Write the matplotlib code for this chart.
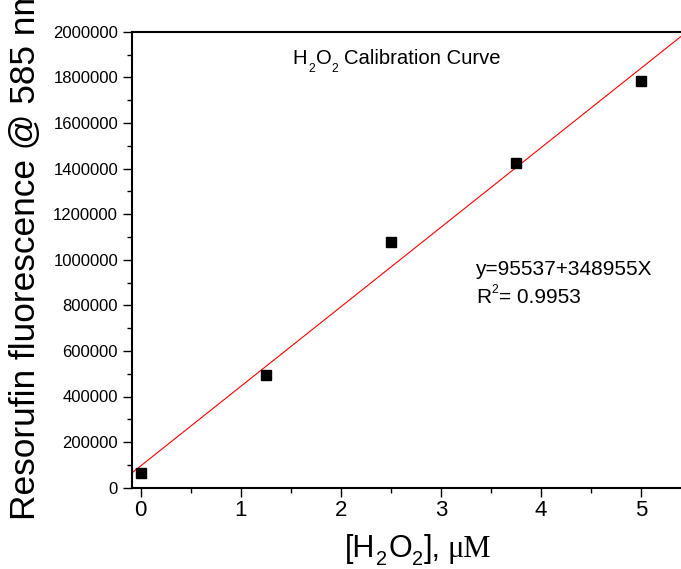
import matplotlib
matplotlib.use('Agg')
import matplotlib.pyplot as plt
import numpy as np
from matplotlib.ticker import MultipleLocator, FuncFormatter

# Data
conc = [0, 1.25, 2.5, 3.75, 5]
fluor = [66000, 494000, 1077000, 1424000, 1783000]
intercept = 95537
slope = 348955
r2 = 0.9953
ylabel = 'Resorufin fluorescence @ 585 nm'

plt.rcParams['font.family'] = ['Liberation Sans', 'DejaVu Sans']

W, H = 681, 569
fig = plt.figure(figsize=(W / 100, H / 100), dpi=100)
ax = fig.add_axes([131.7 / W, 81.3 / H, 559.5 / W, 456 / H])
ax.set_xlim(-0.09, 5.5)
ax.set_ylim(0, 2000000)

xs = np.array([-0.09, 5.6])
ax.plot(xs, intercept + slope * xs, color='#ff0000', lw=0.8, zorder=2)
ax.plot(conc, fluor, ls='none', marker='s', color='black', ms=7.2, zorder=3)

ax.xaxis.set_major_locator(MultipleLocator(1))
ax.xaxis.set_minor_locator(MultipleLocator(0.5))
ax.yaxis.set_major_locator(MultipleLocator(200000))
ax.yaxis.set_minor_locator(MultipleLocator(100000))
ax.yaxis.set_major_formatter(FuncFormatter(lambda v, p: f'{int(round(v))}'))
ax.xaxis.set_major_formatter(FuncFormatter(lambda v, p: f'{int(round(v))}'))

for s in ax.spines.values():
    s.set_linewidth(1.5)
ax.tick_params(which='major', direction='out', length=6.3, width=1.0)
ax.tick_params(which='minor', direction='out', length=3.5, width=1.0)
ax.tick_params(axis='y', which='major', labelsize=12, pad=3.5)
ax.tick_params(axis='x', which='major', labelsize=16, pad=2.5)

fig.canvas.draw()
renderer = fig.canvas.get_renderer()


def rich(x0, y0_top, pieces, size):
    """Draw text pieces in sequence. x0, y0_top in pixels (y from top).
    pieces: (text, scale, dy_em, family, gap_px_before)"""
    em = size * 100 / 72
    x = x0
    y0 = H - y0_top
    for txt, sc, dy, fam, gap in pieces:
        x += gap
        t = fig.text(x / W, (y0 + dy * em) / H, txt, fontsize=size * sc,
                     family=fam, ha='left', va='baseline')
        bb = t.get_window_extent(renderer=renderer)
        x = bb.x1


sans = 'Liberation Sans'
serif = 'Liberation Serif'

# Title text in plot
rich(292.5, 64, [('H', 1, 0, sans, 0), ('2', 0.6, -0.38, sans, 1.5),
                 ('O', 1, 0, sans, 0.8), ('2', 0.6, -0.38, sans, 0.0),
                 ('Calibration Curve', 1, 0, sans, 5.5)], 14.6)

# Equation text
fig.text(475 / W, 1 - 275 / H, f'y={intercept}+{slope}X', ha='left', va='baseline', fontsize=15)
rich(476.0, 303.3, [('R', 1, 0, sans, 0), ('2', 0.58, 0.5, sans, 0.5),
                    ('= ' + f'{r2}', 1, 0, sans, 0.5)], 15)

# Y label
fig.text(35 / W, 49.5 / H, ylabel, rotation=90, rotation_mode='anchor',
         ha='left', va='baseline', fontsize=25.4)

# X label
rich(345, 556.7, [('[H', 1, 0, sans, 0), ('2', 0.65, -0.28, sans, 1.0),
                  ('O', 1, 0, sans, 1.0), ('2', 0.65, -0.28, sans, 0.0),
                  ('],', 1, 0, sans, 0.5), ('μM', 1, 0, serif, 7.0)], 22)

fig.savefig('out.png', dpi=100)
